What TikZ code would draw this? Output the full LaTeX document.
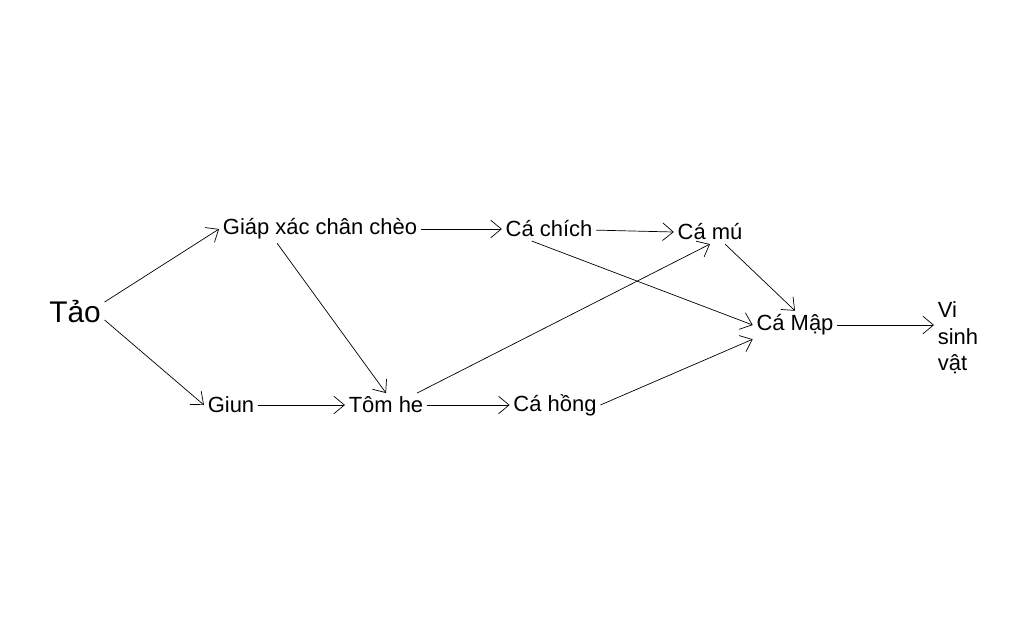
\documentclass[tikz,border=0pt]{standalone}
\usepackage{fontspec}
\setmainfont{Liberation Sans}
\usetikzlibrary{arrows.meta}
\tikzset{
    sp/.style={inner sep=2pt, font=\fontsize{12.5}{15}\selectfont}, % species
    eat/.style={-{Straight Barb[length=6pt,width=10pt]}, thin}
}
\begin{document}
\begin{tikzpicture}[x=0.02cm, y=-0.02cm]
    \useasboundingbox (0,0) rectangle (1024,636);
    \node[sp, font=\fontsize{17}{20}\selectfont] (tao) at (75,312) {Tảo};
    \node[sp] (giap) at (320,229) {Giáp xác chân chèo};
    \node[sp] (chich) at (549,229) {Cá chích};
    \node[sp] (mu) at (710,232) {Cá mú};
    \node[sp] (map) at (795,325) {Cá Mập};
    \node[sp, align=left] (vsv) at (958,338) {Vi\\sinh\\vật};
    \node[sp] (giun) at (231,405) {Giun};
    \node[sp] (tom) at (386,405) {Tôm he};
    \node[sp] (hong) at (555,405) {Cá hồng};

    \draw[eat] (tao.east) ++(0,-10) -- (giap.west);
    \draw[eat] (tao.east) ++(0,8) -- (giun.west);
    \draw[eat] (giap) -- (chich);
    \draw[eat] (chich) -- (mu.west);
    \draw[eat] (giap.south west) ++(58,0) -- (tom.north);
    \draw[eat] (chich.south west) ++(30,0) -- (map.west);
    \draw[eat] (mu.south) ++(15,0) -- (map.north);
    \draw[eat] (tom.north east) ++(-10,0) -- (mu.south);
    \draw[eat] (giun) -- (tom);
    \draw[eat] (tom) -- (hong);
    \draw[eat] (hong.east) -- (map.south west);
    \draw[eat] (map) -- (vsv.west |- map);
\end{tikzpicture}
\end{document}
